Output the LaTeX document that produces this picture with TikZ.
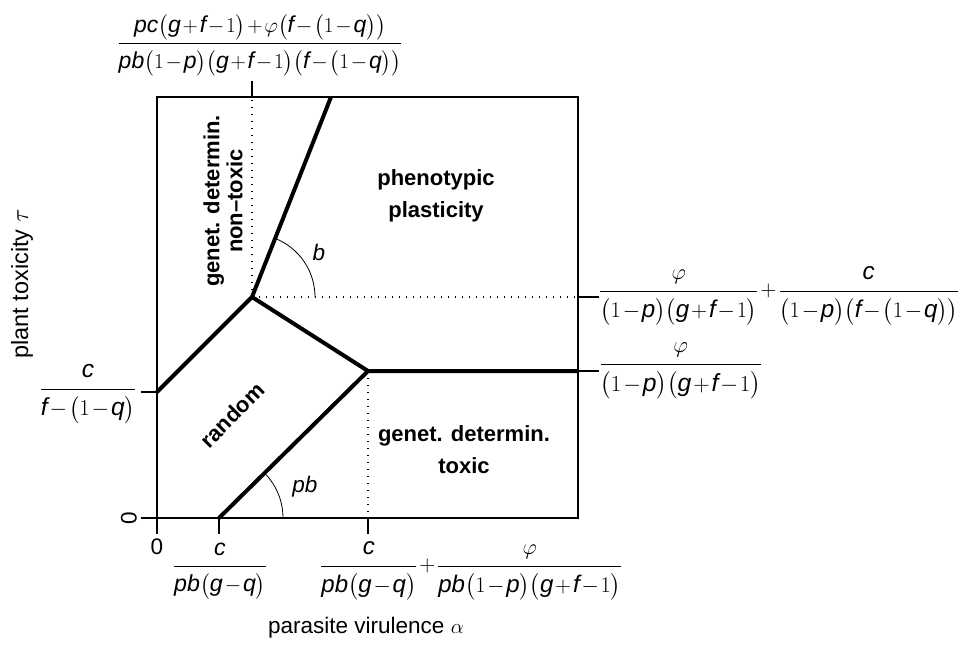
\documentclass[tikz,border=0pt]{standalone}
\usepackage{fontspec}
\setmainfont{Liberation Sans}
\usepackage{amsmath}
\usepackage{graphicx}
\usetikzlibrary{calc}
\newcommand\mi[1]{\mathit{#1}}
\newcommand\fm[2]{\resizebox{#1pt}{!}{\medmuskip=1.5mu\relax$\displaystyle #2$}}
\newcommand\ff[2]{\frac{\raisebox{2pt}{$\displaystyle #1$}}{\raisebox{-5pt}{$\displaystyle #2$}}}
\begin{document}
\begin{tikzpicture}[x=1pt,y=-1pt,
  every node/.style={inner sep=0pt,font=\fontsize{22.5}{26}\selectfont},
  region/.style={font=\fontsize{22}{32}\selectfont\bfseries,align=center},
  mathlab/.style={font=\fontsize{22.5}{28}\selectfont},
  frame/.style={line width=1.6pt},
  border/.style={line width=4pt},
  guide/.style={line width=1.4pt,dash pattern=on 1.4pt off 5.6pt},
  tick/.style={line width=1.6pt},
  anglearc/.style={line width=0.8pt}]
\useasboundingbox (0,0) rectangle (967,645);
% frame
\draw[frame] (157,97) rectangle (578,518);
% key points
\coordinate (A) at (252,297);
\coordinate (B) at (368,371);
\coordinate (L) at (157,392);
\coordinate (T) at (331,97);
\coordinate (R) at (578,371);
\coordinate (D) at (219,518);
\coordinate (Atop) at (252,97);
\coordinate (Aright) at (578,297);
\coordinate (Bbot) at (368,518);
% guides
\draw[guide] (A) -- (Atop);
\draw[guide] (A) -- (Aright);
\draw[guide] (B) -- (Bbot);
% borders
\draw[border,line join=miter] (L) -- (A) -- (T);
\draw[border] (A) -- (B) -- (R);
\draw[border] (B) -- (D);
% angle arcs
\draw[anglearc] ($(A)+(63,0)$) arc[start angle=0,end angle=-68.4,radius=63];
\draw[anglearc] ($(D)+(64,0)$) arc[start angle=0,end angle=-44.6,radius=64];
% ticks
\draw[tick] (157,518) -- (157,534);
\draw[tick] (219,518) -- (219,534);
\draw[tick] (368,518) -- (368,534);
\draw[tick] (157,518) -- (141,518);
\draw[tick] (157,392) -- (141,392);
\draw[tick] (578,297) -- (599,297);
\draw[tick] (578,371) -- (599,371);
\draw[tick] (252,97) -- (252,81);
% region labels
\node[region] (pp) at (436,196) {phenotypic\\plasticity};
\node[region,rotate=90,font=\fontsize{22}{23}\selectfont\bfseries] (gdn) at (223,201) {genet. determin.\\non--toxic};
\node[region,rotate=45] (rnd) at (232,415) {random};
\node[region] (gdt) at (464,450) {genet. determin.\\toxic};
\node (lb) at (319,252) {$\mi{b}$};
\node (lpb) at (305,487) {$\mi{pb}$};
% axis labels
\node[rotate=90,font=\fontsize{23.5}{26}\selectfont] (ylab) at (22,284) {plant toxicity $\tau$};
\node (xlab) at (366,628) {parasite virulence $\alpha$};
% tick labels
\node (x0) at (157,547) {0};
\node[rotate=90] (y0) at (129,518) {0};
\node[mathlab] (xc1) at (220,571) {\fm{94}{\ff{\mi{c}}{\mi{pb}\bigl(\mi{g}-\mi{q}\bigr)}}};
\node[mathlab,anchor=west] (xc2) at (320,571) {\fm{302}{\ff{\mi{c}}{\mi{pb}\bigl(\mi{g}-\mi{q}\bigr)}+\ff{\varphi}{\mi{pb}\bigl(1-\mi{p}\bigr)\bigl(\mi{g}+\mi{f}-1\bigr)}}};
\node[mathlab] (yc1) at (88,394) {\fm{97}{\ff{\mi{c}}{\mi{f}-\bigl(1-\mi{q}\bigr)}}};
\node[mathlab,anchor=west] (yr1) at (599,296) {\fm{360}{\ff{\varphi}{\bigl(1-\mi{p}\bigr)\bigl(\mi{g}+\mi{f}-1\bigr)}+\ff{\mi{c}}{\bigl(1-\mi{p}\bigr)\bigl(\mi{f}-\bigl(1-\mi{q}\bigr)\bigr)}}};
\node[mathlab,anchor=west] (yr2) at (599,371) {\fm{163}{\ff{\varphi}{\bigl(1-\mi{p}\bigr)\bigl(\mi{g}+\mi{f}-1\bigr)}}};
\node[mathlab] (top) at (260,45) {\fm{285}{\ff{\mi{pc}\bigl(\mi{g}+\mi{f}-1\bigr)+\varphi\bigl(\mi{f}-\bigl(1-\mi{q}\bigr)\bigr)}{\mi{pb}\bigl(1-\mi{p}\bigr)\bigl(\mi{g}+\mi{f}-1\bigr)\bigl(\mi{f}-\bigl(1-\mi{q}\bigr)\bigr)}}};
\end{tikzpicture}
\end{document}
